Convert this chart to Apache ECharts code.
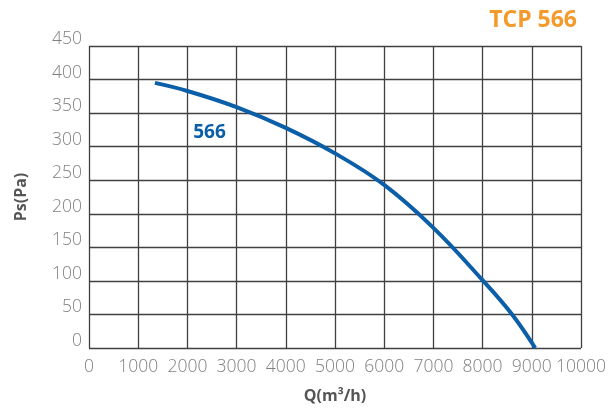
<!DOCTYPE html>
<html><head><meta charset="utf-8">
<script src="https://cdn.jsdelivr.net/npm/echarts@6/dist/echarts.min.js"></script>
<style>html,body{margin:0;padding:0;background:#fff}#c{width:616px;height:410px}</style>
</head><body><div id="c"></div>
<script>
var flow = [1340, 2000, 3000, 4000, 5000, 6000, 7000, 8000, 8600, 9070];
var pressure = [395, 383, 359, 328, 290, 243, 179, 101, 50, 0];
var xTicks = [0, 1000, 2000, 3000, 4000, 5000, 6000, 7000, 8000, 9000, 10000];
var yTicks = [0, 50, 100, 150, 200, 250, 300, 350, 400, 450];
var seriesName = '566';
var titleText = 'TCP 566';

var data = flow.map(function (q, i) { return [q, pressure[i]]; });
var chart = echarts.init(document.getElementById('c'));
chart.setOption({
  animation: false,
  title: { text: titleText, right: 34, top: 4, textStyle: { color: '#f39a2b', fontSize: 23, fontWeight: 'bold', fontFamily: 'Open Sans' } },
  grid: { left: 89, right: 35, top: 46, bottom: 62 },
  xAxis: {
    type: 'value', min: xTicks[0], max: xTicks[xTicks.length - 1], interval: 1000,
    name: 'Q(m³/h)', nameLocation: 'middle', nameGap: 40,
    nameTextStyle: { color: '#555', fontSize: 16, fontWeight: 'bold', fontFamily: 'Open Sans' },
    axisLine: { show: false }, axisTick: { show: false },
    axisLabel: { color: '#808080', fontSize: 17.5, fontWeight: 300, fontFamily: 'Open Sans', margin: 10, formatter: function (v) { return String(v); } },
    splitLine: { show: true, lineStyle: { color: '#404040', width: 1.3 } }
  },
  yAxis: {
    type: 'value', min: yTicks[0], max: yTicks[yTicks.length - 1], interval: 50,
    name: 'Ps(Pa)', nameLocation: 'middle', nameGap: 60,
    nameTextStyle: { color: '#555', fontSize: 16, fontWeight: 'bold', fontFamily: 'Open Sans' },
    axisLine: { show: false }, axisTick: { show: false },
    axisLabel: { color: '#808080', fontSize: 17.5, fontWeight: 300, fontFamily: 'Open Sans', margin: 7, verticalAlign: 'bottom', padding: [0, 0, -2, 0] },
    splitLine: { show: true, lineStyle: { color: '#404040', width: 1.3 } }
  },
  series: [{
    name: seriesName, type: 'line', data: data, smooth: 0.4, showSymbol: false,
    lineStyle: { color: '#0b5ea8', width: 4 },
    markPoint: {
      symbol: 'circle', symbolSize: 0,
      data: [{ coord: [2450, 321], value: seriesName }],
      label: { show: true, formatter: seriesName, color: '#0b5ea8', fontSize: 19, fontWeight: 'bold', fontFamily: 'Open Sans' }
    }
  }]
});
</script></body></html>
